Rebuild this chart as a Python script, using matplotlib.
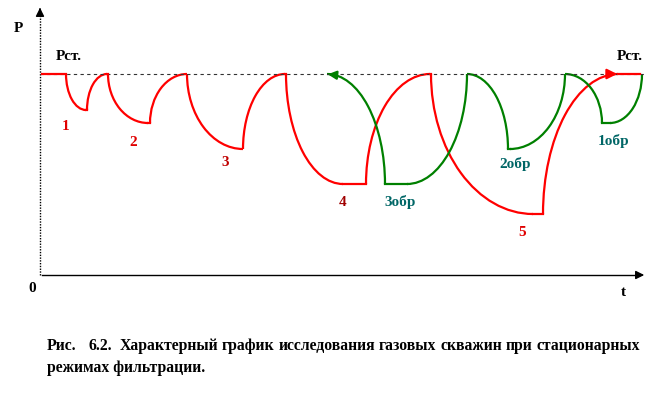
import matplotlib
matplotlib.use('Agg')
import matplotlib.pyplot as plt
from matplotlib.patches import Arc

# static pressure level
p_st = 201

# red curve: drawdown / recovery cycles 1..5
red_drop_start = [26, 68, 147, 246, 391]
red_drop_end = [46, 108, 203, 303, 493]
red_rise_start = [47, 110, 203, 326, 503]
red_rise_end = [67, 147, 245, 390, 578]
red_min = [165, 152, 126, 91, 61]
red_labels = ['1', '2', '3', '4', '5']
red_label_t = [26, 93, 185, 303, 482]
red_label_p = [148, 133, 112, 73, 43]
red_label_col = ['#e00000', '#e00000', '#c00000', '#a00000', '#e00000']

# green curve: reverse run 3обр -> 2обр -> 1обр
green_drop_start = [287, 427, 525]
green_drop_end = [345, 468, 562]
green_rise_start = [367, 470, 570]
green_rise_end = [427, 525, 602]
green_min = [91, 126, 152]
green_labels = ['3обр', '2обр', '1обр']
green_label_t = [360, 475, 574]
green_label_p = [73, 111, 134]

caption1 = 'Рис. 6.2. Характерный график исследования газовых скважин при стационарных'
caption2 = 'режимах фильтрации.'

RED = '#ff0000'
GREEN = '#008000'
TEAL = '#006666'
LW = 1.6
serif = 'Liberation Serif'

fig = plt.figure(figsize=(6.63, 3.95), dpi=100)
ax = fig.add_axes([0, 0, 1, 1])
ax.set_xlim(-40, 623)
ax.set_ylim(-120, 275)
ax.axis('off')


def arc(cx, cy, w, h, a1, a2, color):
    ax.add_patch(Arc((cx, cy), 2 * w, 2 * h, theta1=a1, theta2=a2,
                     color=color, lw=LW))


# axes with arrows
ax.plot([0, 0], [0, 265], color='black', lw=1, ls=(0, (1, 1)))
ax.annotate('', xy=(0, 270), xytext=(0, 262),
            arrowprops=dict(arrowstyle='-|>,head_length=0.5,head_width=0.25',
                            color='black', lw=1))
ax.plot([2, 600], [0, 0], color='black', lw=1)
ax.annotate('', xy=(607, 0), xytext=(598, 0),
            arrowprops=dict(arrowstyle='-|>,head_length=0.5,head_width=0.25',
                            color='black', lw=1))

# static pressure line
ax.plot([0, 605], [p_st, p_st], color='#333333', lw=0.8, ls=(0, (3, 3)))

# red cycles
ax.plot([2, red_drop_start[0]], [p_st, p_st], color=RED, lw=LW)
for i in range(len(red_min)):
    h = p_st - red_min[i]
    arc(red_drop_end[i], p_st, red_drop_end[i] - red_drop_start[i], h, 180, 270, RED)
    ax.plot([red_drop_end[i], red_rise_start[i]], [red_min[i], red_min[i]], color=RED, lw=LW)
    arc(red_rise_end[i], red_min[i], red_rise_end[i] - red_rise_start[i], h, 90, 180, RED)
    if i + 1 < len(red_min):
        ax.plot([red_rise_end[i], red_drop_start[i + 1]], [p_st, p_st], color=RED, lw=LW)
ax.plot([red_rise_end[-1], 600], [p_st, p_st], color=RED, lw=LW)
ax.annotate('', xy=(580, p_st), xytext=(570, p_st),
            arrowprops=dict(arrowstyle='-|>,head_length=0.6,head_width=0.3',
                            color=RED, lw=LW))

# green cycles
for i in range(len(green_min)):
    h = p_st - green_min[i]
    arc(green_drop_start[i], green_min[i], green_drop_end[i] - green_drop_start[i], h, 0, 90, GREEN)
    ax.plot([green_drop_end[i], green_rise_start[i]], [green_min[i], green_min[i]], color=GREEN, lw=LW)
    arc(green_rise_start[i], p_st, green_rise_end[i] - green_rise_start[i], h, 270, 360, GREEN)
ax.annotate('', xy=(285, p_st), xytext=(295, p_st - 1),
            arrowprops=dict(arrowstyle='-|>,head_length=0.5,head_width=0.25',
                            color=GREEN, lw=LW))

# labels
for lab, t, p, c in zip(red_labels, red_label_t, red_label_p, red_label_col):
    ax.text(t, p, lab, color=c, fontsize=11, fontweight='bold', family=serif,
            ha='center', va='center')
for lab, t, p in zip(green_labels, green_label_t, green_label_p):
    ax.text(t, p, lab, color=TEAL, fontsize=11, fontweight='bold', family=serif,
            ha='center', va='center')

ax.text(-22, 247, 'P', fontsize=11, fontweight='bold', family=serif, ha='center', va='center')
ax.text(29, 218, 'Рст.', fontsize=11, fontweight='bold', family=serif, ha='center', va='center')
ax.text(590, 219, 'Рст.', fontsize=11, fontweight='bold', family=serif, ha='center', va='center')
ax.text(-8, -13, '0', fontsize=11, fontweight='bold', family=serif, ha='center', va='center')
ax.text(583, -18, 't', fontsize=11, fontweight='bold', family=serif, ha='center', va='center')

# caption, justified across the first line
cap_fs = 11.3
words = caption1.split(' ')
gap_w = [3, 2] + [1] * (len(words) - 3)
arts = [ax.text(0, -71, w, fontsize=cap_fs, fontweight='bold', family=serif,
                ha='left', va='center') for w in words]
fig.canvas.draw()
r = fig.canvas.get_renderer()
widths = [a.get_window_extent(r).width for a in arts]
total = 593.0
unit = (total - sum(widths)) / sum(gap_w)
x = 7.0
for i, a in enumerate(arts):
    a.set_x(x)
    x += widths[i] + (unit * gap_w[i] if i < len(gap_w) else 0)
ax.text(7, -93, caption2, fontsize=cap_fs, fontweight='bold', family=serif,
        ha='left', va='center')

fig.savefig('out.png', dpi=100)
